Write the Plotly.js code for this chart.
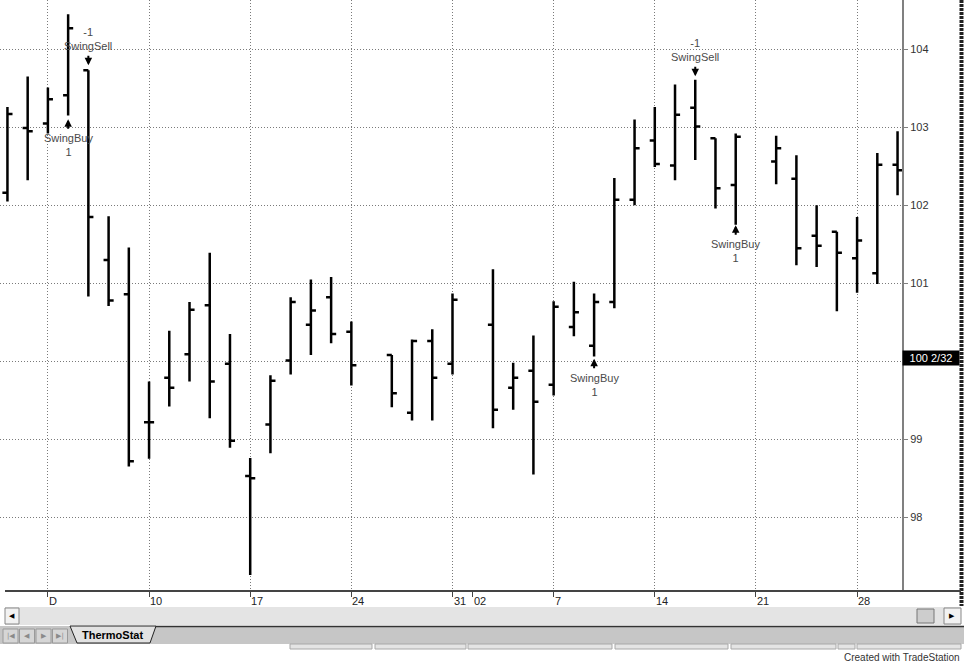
<!DOCTYPE html>
<html>
<head>
<meta charset="utf-8">
<script src="https://cdn.plot.ly/plotly-3.0.1.min.js"></script>
<style>
html,body{margin:0;padding:0;background:#fff;}
#chart{width:964px;height:664px;}
</style>
</head>
<body>
<div id="chart"></div>
<script>
// ---- data ----
const dates = ['2001-11-29','2001-11-30','2001-12-03','2001-12-04','2001-12-05','2001-12-06','2001-12-07',
  '2001-12-10','2001-12-11','2001-12-12','2001-12-13','2001-12-14','2001-12-17','2001-12-18','2001-12-19',
  '2001-12-20','2001-12-21','2001-12-24','2001-12-26','2001-12-27','2001-12-28','2001-12-31','2002-01-02',
  '2002-01-03','2002-01-04','2002-01-07','2002-01-08','2002-01-09','2002-01-10','2002-01-11','2002-01-14',
  '2002-01-15','2002-01-16','2002-01-17','2002-01-18','2002-01-22','2002-01-23','2002-01-24','2002-01-25',
  '2002-01-28','2002-01-29','2002-01-30'];
const opens  = [102.16,102.99,103.05,103.41,103.73,101.30,100.86,99.22,99.79,100.09,100.72,99.97,98.53,99.19,100.01,
  100.47,100.82,100.38,100.08,99.34,100.26,99.97,100.47,99.66,99.88,99.70,100.44,100.20,100.76,102.07,102.83,
  102.51,103.25,102.86,102.26,102.56,102.34,101.61,101.66,101.32,101.13,102.52];
const highs  = [103.26,103.65,103.51,104.45,103.73,101.86,101.46,99.74,100.39,100.76,101.39,100.35,98.76,99.82,100.82,
  101.05,101.08,100.51,100.08,100.28,100.41,100.87,101.18,99.98,100.33,100.77,101.02,100.87,102.35,103.10,103.26,
  103.55,103.61,102.86,102.92,102.89,102.64,102.00,101.66,101.85,102.67,102.95];
const lows   = [102.05,102.32,102.92,103.15,100.83,100.71,98.65,98.75,99.42,99.74,99.27,98.89,97.26,98.82,99.83,
  100.08,100.23,99.69,99.41,99.24,99.24,99.83,99.14,99.38,98.55,99.56,100.32,100.06,100.68,102.00,102.49,
  102.32,102.58,101.96,101.75,102.27,101.23,101.21,100.64,100.88,100.99,102.13];
const closes = [103.17,102.95,103.36,104.27,101.85,100.78,98.72,99.22,99.66,100.66,99.74,98.98,98.50,99.75,100.76,
  100.65,100.35,99.95,99.59,100.26,99.79,100.79,99.38,99.79,99.48,100.70,100.63,100.76,102.07,102.73,102.53,
  103.16,103.01,102.22,102.88,102.73,101.45,101.48,101.39,101.55,102.52,102.45];

const gridDates = ['2001-12-03','2001-12-10','2001-12-17','2001-12-24','2001-12-31','2002-01-07','2002-01-14','2002-01-21','2002-01-28'];
const yearMarkDate = '2002-01-01';
const tickDates = ['2001-12-03','2001-12-10','2001-12-17','2001-12-24','2001-12-31','2002-01-01','2002-01-07','2002-01-14','2002-01-21','2002-01-28'];
const tickText  = ['D','10','17','24','31','02','7','14','21','28'];
const priceTicks = [98,99,100,101,102,103,104];
const priceTickText = ['98','99','','101','102','103','104'];
const lastPriceValue = 100 + 2/32;
const lastPriceText = '100 2/32';

const sigDates = ['2001-12-04','2001-12-05','2002-01-09','2002-01-16','2002-01-18'];
const sigNames = ['SwingBuy','SwingSell','SwingBuy','SwingSell','SwingBuy'];
const sigQty   = [1,-1,1,-1,1];
const sigPrice = [103.04,103.86,99.97,103.72,101.68];

// ---- layout helpers ----
const W = 964, H = 664, ML = 0, MR = 62, MT = 0, MB = 73;
const PW = W - ML - MR, PH = H - MT - MB;
const px = x => (x - ML) / PW;
const py = y => (H - MB - y) / PH;
const noon = d => d + ' 12:00';
const FONT = 'Liberation Sans, Arial, sans-serif';
const DOTS = '1px,2px';

const trace = {
  type: 'ohlc',
  x: dates.map(noon),
  open: opens, high: highs, low: lows, close: closes,
  increasing: {line: {color: '#000', width: 2.5}},
  decreasing: {line: {color: '#000', width: 2.5}},
  tickwidth: 0.25,
  hoverinfo: 'skip',
  showlegend: false
};

const annotations = [];
// x tick labels (left aligned at tick)
tickDates.forEach((d, i) => {
  annotations.push({
    x: noon(d), xref: 'x', y: 0, yref: 'paper', yshift: -10,
    xanchor: 'left', yanchor: 'middle', xshift: -1,
    text: tickText[i], showarrow: false,
    font: {family: FONT, size: 11, color: '#222'}
  });
});
// strategy signals: arrow + labels
sigDates.forEach((d, i) => {
  const buy = sigQty[i] > 0;
  annotations.push({
    x: noon(d), xref: 'x', y: sigPrice[i], yref: 'y',
    yshift: buy ? 5 : -5,
    text: '', showarrow: true, ax: 0, ay: buy ? 11 : -11,
    arrowhead: 2, arrowsize: 0.75, arrowwidth: 2, arrowcolor: '#000', standoff: 0, startstandoff: 0
  });
  annotations.push({
    x: noon(d), xref: 'x', y: sigPrice[i], yref: 'y',
    xanchor: 'center', yanchor: buy ? 'top' : 'bottom',
    yshift: buy ? -6 : 6,
    text: buy ? sigNames[i] + '<br>' + sigQty[i] : sigQty[i] + '<br>' + sigNames[i],
    showarrow: false,
    font: {family: FONT, size: 11, color: '#4a4a4a'}
  });
});
// last price box
annotations.push({
  x: 1, xref: 'paper', y: lastPriceValue, yref: 'y', yshift: -2,
  xanchor: 'left', yanchor: 'middle',
  text: lastPriceText, showarrow: false,
  bgcolor: '#000', width: 54, height: 12, borderpad: 1, align: 'center',
  font: {family: FONT, size: 11, color: '#fff'}
});
// UI chrome texts
const uiText = (x, y, text, font, xa) => annotations.push({x: px(x), xref: 'paper', y: py(y), yref: 'paper',
  xanchor: xa || 'center', yanchor: 'middle', text: text, showarrow: false, font: font});
uiText(12, 616, '&#9664;', {family: 'DejaVu Sans', size: 7, color: '#000'});
uiText(952.5, 616, '&#9654;', {family: 'DejaVu Sans', size: 7, color: '#000'});
['|&#9664;','&#9664;','&#9654;','&#9654;|'].forEach((g, i) => uiText(10.5 + i * 16.5, 636, g, {family: 'DejaVu Sans', size: 7, color: '#8a8a8a'}));
uiText(112, 635, '<b>ThermoStat</b>', {family: FONT, size: 11, color: '#000'});
uiText(962, 657, 'Created with TradeStation', {family: FONT, size: 10, color: '#333'}, 'right');

const shapes = [];
const rect = (x0, y0, x1, y1, fill, line, lw) => shapes.push({type: 'rect', xref: 'paper', yref: 'paper',
  x0: px(x0), x1: px(x1), y0: py(y1), y1: py(y0), fillcolor: fill, line: {color: line || 'rgba(0,0,0,0)', width: lw || 0}, layer: 'above'});
const hline = (x0, x1, y, color, w) => shapes.push({type: 'line', xref: 'paper', yref: 'paper',
  x0: px(x0), x1: px(x1), y0: py(y), y1: py(y), line: {color: color, width: w}, layer: 'above'});

// right dark strip
shapes.push({type: 'line', xref: 'paper', yref: 'paper', x0: px(961.5), x1: px(961.5), y0: py(0), y1: py(606),
  line: {color: '#222', width: 4, dash: '3px,1px'}, layer: 'above'});
// x axis baseline
hline(5, 961, 591, '#444', 2);
// scrollbar
rect(5, 607, 961, 625, '#e4e4e4');
rect(5, 608, 19, 624, '#f2f2f2', '#888', 1);
rect(917, 609, 934, 623, '#cdcdcd', '#777', 1);
rect(944, 608, 961, 624, '#f2f2f2', '#888', 1);
// tab bar
rect(0, 626, 964, 644, '#c6c6c6');
hline(156, 964, 626.5, '#333', 1.5);
for (let i = 0; i < 4; i++) rect(3 + i * 16.5, 629, 18 + i * 16.5, 643, '#d6d6d6', '#9a9a9a', 1);
shapes.push({type: 'path', xref: 'paper', yref: 'paper',
  path: `M ${px(70)},${py(626)} L ${px(77)},${py(643)} L ${px(150)},${py(643)} L ${px(156)},${py(626)} Z`,
  fillcolor: '#e2e2e2', line: {color: '#222', width: 1}, layer: 'above'});
// status panels
[[290,372],[375,466],[468,612],[615,728],[731,836],[838,855],[857,961]].forEach(p => rect(p[0], 644, p[1], 649, '#e4e4e4', '#a8a8a8', 1));

const layout = {
  width: W, height: H,
  margin: {l: ML, r: MR, t: MT, b: MB, pad: 0},
  paper_bgcolor: '#fff', plot_bgcolor: '#fff',
  showlegend: false,
  xaxis: {
    type: 'date',
    range: ['2001-11-29 03:10', '2002-01-30 17:17'],
    rangebreaks: [{bounds: ['sat', 'mon']}],
    rangeslider: {visible: false},
    tickmode: 'array', tickvals: gridDates.map(noon),
    showticklabels: false,
    ticks: 'outside', ticklen: 5, tickcolor: '#444', tickwidth: 1,
    minor: {tickmode: 'array', tickvals: [noon(yearMarkDate)], ticks: 'outside', ticklen: 5, tickcolor: '#444', showgrid: false},
    showgrid: true, gridcolor: '#7a7a7a', griddash: DOTS, gridwidth: 1,
    showline: false, zeroline: false, fixedrange: true
  },
  yaxis: {
    side: 'right',
    range: [97.055, 104.632],
    tickmode: 'array', tickvals: priceTicks, ticktext: priceTickText,
    ticks: 'outside', ticklen: 4, tickcolor: '#808080', tickwidth: 1,
    tickfont: {family: FONT, size: 11, color: '#333'},
    showgrid: true, gridcolor: '#7a7a7a', griddash: DOTS, gridwidth: 1,
    showline: true, linecolor: '#808080', linewidth: 2,
    zeroline: false, fixedrange: true
  },
  annotations: annotations,
  shapes: shapes
};

Plotly.newPlot('chart', [trace], layout, {displayModeBar: false, staticPlot: true});
</script>
</body>
</html>
